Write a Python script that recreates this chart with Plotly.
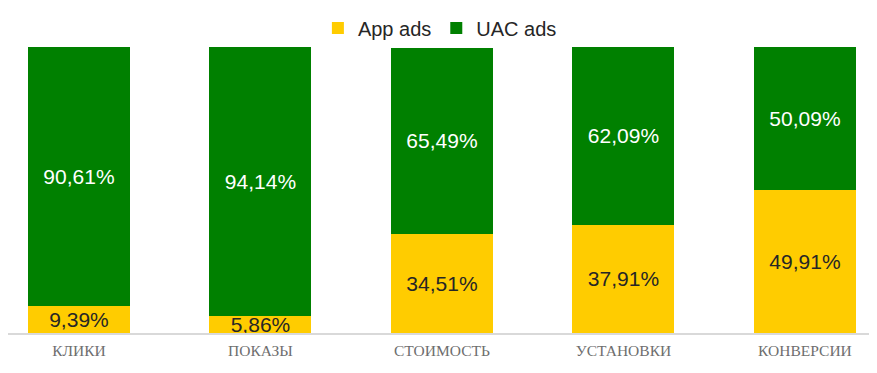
import plotly.graph_objects as go

categories = ["КЛИКИ", "ПОКАЗЫ", "СТОИМОСТЬ", "УСТАНОВКИ", "КОНВЕРСИИ"]
app_ads = [9.39, 5.86, 34.51, 37.91, 49.91]
uac_ads = [90.61, 94.14, 65.49, 62.09, 50.09]

def fmt(v):
    return f"{v:.2f}".replace(".", ",") + "%"

fig = go.Figure()
fig.add_trace(go.Bar(
    x=categories, y=app_ads, name="App ads",
    marker=dict(color="#FFCC00", line=dict(width=0)),
    text=[fmt(v) for v in app_ads], textposition="inside", insidetextanchor="middle",
    textfont=dict(color="#262626", size=21, family="Liberation Sans"),
    constraintext="none",
))
fig.add_trace(go.Bar(
    x=categories, y=uac_ads, name="UAC ads",
    marker=dict(color="#008000", line=dict(width=0)),
    text=[fmt(v) for v in uac_ads], textposition="inside", insidetextanchor="middle",
    textfont=dict(color="white", size=21, family="Liberation Sans"),
    constraintext="none",
))
fig.update_layout(
    barmode="stack",
    bargap=0.438,
    width=869, height=365,
    margin=dict(l=0, r=0, t=39, b=40),
    paper_bgcolor="white", plot_bgcolor="white",
    legend=dict(orientation="h", x=0.497, xanchor="center", y=1.066, yanchor="middle",
                font=dict(size=20, family="Liberation Sans", color="#262626"),
                traceorder="normal", itemclick=False, itemwidth=30),
    xaxis=dict(range=[-0.391, 4.397], showgrid=False, showline=True, linecolor="#d9d9d9",
               linewidth=1.5, ticks="", ticklabelstandoff=3,
               tickfont=dict(family="Liberation Serif", size=15.5, color="#6e6e6e")),
    yaxis=dict(range=[0, 100], visible=False),
    showlegend=True,
)
fig.write_html("out.html")
